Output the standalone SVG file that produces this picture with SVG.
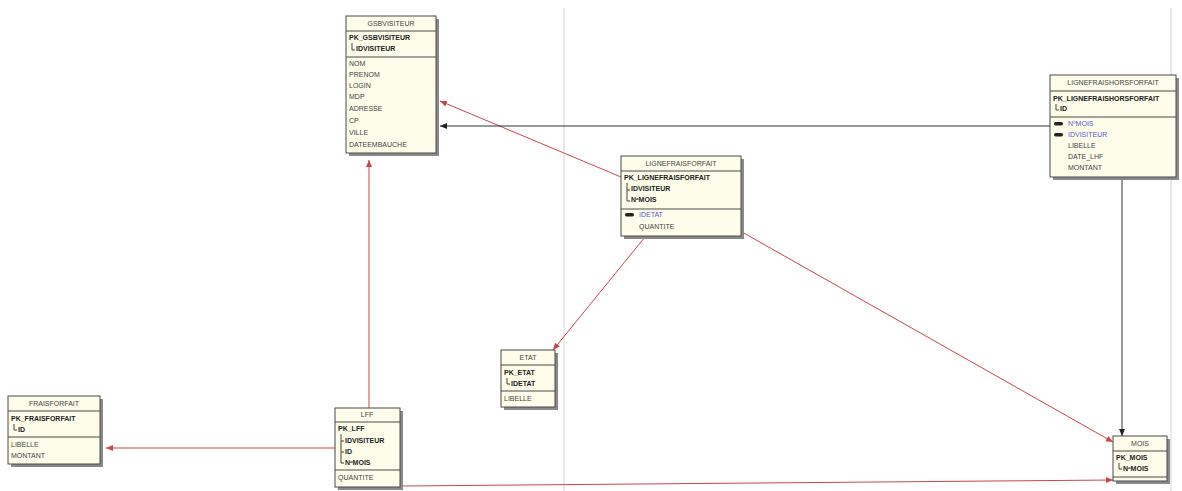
<svg xmlns="http://www.w3.org/2000/svg" width="1182" height="491" viewBox="0 0 1182 491">
<style>
.bx{fill:#fdfde9;stroke:#4a4a4a;stroke-width:1}
.sh{fill:#8a8a8a}
.dv{stroke:#4a4a4a;stroke-width:1}
.t{font-family:"Liberation Sans",Arial,sans-serif;font-size:7px;fill:#444}
.h{text-anchor:middle}
.b{font-weight:bold;fill:#222}
.bl{fill:#5a5ad0}
.tr{fill:none;stroke:#444;stroke-width:1}
.ic{fill:#222}
.r{stroke:#c84848;stroke-width:1;fill:none}
.k{stroke:#333;stroke-width:1;fill:none}
.pg{stroke:#e2e2e2;stroke-width:1.5}
</style>
<defs>
<marker id="ar" markerWidth="8" markerHeight="8" refX="7" refY="4" orient="auto" markerUnits="userSpaceOnUse">
<path d="M0,1 L7,4 L0,7 Z" fill="#c84848"/>
</marker>
<marker id="ak" markerWidth="8" markerHeight="8" refX="7" refY="4" orient="auto" markerUnits="userSpaceOnUse">
<path d="M0,1 L7,4 L0,7 Z" fill="#222"/>
</marker>
</defs>
<rect width="1182" height="491" fill="#ffffff"/>
<line class="pg" x1="564" y1="8" x2="564" y2="491"/>
<line class="pg" x1="1171" y1="8" x2="1171" y2="491"/>

<g id="connectors">
<line class="r" x1="621" y1="177" x2="440" y2="101" marker-end="url(#ar)"/>
<line class="k" x1="1050" y1="126" x2="440" y2="126" marker-end="url(#ak)"/>
<line class="r" x1="645" y1="237" x2="553" y2="350" marker-end="url(#ar)"/>
<line class="r" x1="742" y1="232" x2="1113" y2="442" marker-end="url(#ar)"/>
<line class="k" x1="1122" y1="178" x2="1122" y2="436" marker-end="url(#ak)"/>
<line class="r" x1="369" y1="408" x2="369" y2="160" marker-end="url(#ar)"/>
<line class="r" x1="335" y1="448" x2="106" y2="448" marker-end="url(#ar)"/>
<line class="r" x1="403" y1="486" x2="1113" y2="480" marker-end="url(#ar)"/>
</g>

<g id="gsbvisiteur">
<rect class="sh" x="349" y="19" width="90" height="137"/>
<rect class="bx" x="346" y="16" width="90" height="137"/>
<line class="dv" x1="346" y1="31" x2="436" y2="31"/>
<line class="dv" x1="346" y1="57" x2="436" y2="57"/>
<text class="t h" x="391" y="26">GSBVISITEUR</text>
<text class="t b" x="349" y="40">PK_GSBVISITEUR</text>
<path class="tr" d="M352,43 V50 H355"/>
<text class="t b" x="356" y="51">IDVISITEUR</text>
<text class="t" x="349" y="66">NOM</text>
<text class="t" x="349" y="77">PRENOM</text>
<text class="t" x="349" y="88">LOGIN</text>
<text class="t" x="349" y="99">MDP</text>
<text class="t" x="349" y="111">ADRESSE</text>
<text class="t" x="349" y="123">CP</text>
<text class="t" x="349" y="135">VILLE</text>
<text class="t" x="349" y="147">DATEEMBAUCHE</text>
</g>

<g id="lignefraishorsforfait">
<rect class="sh" x="1053" y="78" width="126" height="102"/>
<rect class="bx" x="1050" y="75" width="126" height="102"/>
<line class="dv" x1="1050" y1="91" x2="1176" y2="91"/>
<line class="dv" x1="1050" y1="117" x2="1176" y2="117"/>
<text class="t h" x="1113" y="85">LIGNEFRAISHORSFORFAIT</text>
<text class="t b" x="1053" y="101">PK_LIGNEFRAISHORSFORFAIT</text>
<path class="tr" d="M1056,104 V110 H1059"/>
<text class="t b" x="1060" y="111">ID</text>
<rect class="ic" x="1054" y="122" width="9" height="3.5" rx="1.7"/>
<text class="t bl" x="1068" y="126">NºMOIS</text>
<rect class="ic" x="1054" y="133" width="9" height="3.5" rx="1.7"/>
<text class="t bl" x="1068" y="137">IDVISITEUR</text>
<text class="t" x="1068" y="148">LIBELLE</text>
<text class="t" x="1068" y="159">DATE_LHF</text>
<text class="t" x="1068" y="170">MONTANT</text>
</g>

<g id="lignefraisforfait">
<rect class="sh" x="624" y="159" width="120" height="80"/>
<rect class="bx" x="621" y="156" width="120" height="80"/>
<line class="dv" x1="621" y1="171" x2="741" y2="171"/>
<line class="dv" x1="621" y1="209" x2="741" y2="209"/>
<text class="t h" x="681" y="166">LIGNEFRAISFORFAIT</text>
<text class="t b" x="624" y="180">PK_LIGNEFRAISFORFAIT</text>
<path class="tr" d="M627,183 V201 H630 M627,190 H630"/>
<text class="t b" x="631" y="191">IDVISITEUR</text>
<text class="t b" x="631" y="202">NºMOIS</text>
<rect class="ic" x="625" y="213" width="9" height="3.5" rx="1.7"/>
<text class="t bl" x="639" y="217">IDETAT</text>
<text class="t" x="639" y="229">QUANTITE</text>
</g>

<g id="etat">
<rect class="sh" x="504" y="353" width="54" height="57"/>
<rect class="bx" x="501" y="350" width="54" height="57"/>
<line class="dv" x1="501" y1="365" x2="555" y2="365"/>
<line class="dv" x1="501" y1="391" x2="555" y2="391"/>
<text class="t h" x="528" y="360">ETAT</text>
<text class="t b" x="504" y="375">PK_ETAT</text>
<path class="tr" d="M507,378 V384 H510"/>
<text class="t b" x="511" y="386">IDETAT</text>
<text class="t" x="504" y="401">LIBELLE</text>
</g>

<g id="fraisforfait">
<rect class="sh" x="11" y="399" width="92" height="68"/>
<rect class="bx" x="8" y="396" width="92" height="68"/>
<line class="dv" x1="8" y1="411" x2="100" y2="411"/>
<line class="dv" x1="8" y1="437" x2="100" y2="437"/>
<text class="t h" x="54" y="406">FRAISFORFAIT</text>
<text class="t b" x="11" y="421">PK_FRAISFORFAIT</text>
<path class="tr" d="M14,424 V430 H17"/>
<text class="t b" x="18" y="432">ID</text>
<text class="t" x="11" y="447">LIBELLE</text>
<text class="t" x="11" y="458">MONTANT</text>
</g>

<g id="lff">
<rect class="sh" x="338" y="411" width="65" height="79"/>
<rect class="bx" x="335" y="408" width="65" height="79"/>
<line class="dv" x1="335" y1="422" x2="400" y2="422"/>
<line class="dv" x1="335" y1="470" x2="400" y2="470"/>
<text class="t h" x="367" y="417">LFF</text>
<text class="t b" x="338" y="431">PK_LFF</text>
<path class="tr" d="M341,434 V463 H344 M341,441 H344 M341,452 H344"/>
<text class="t b" x="345" y="443">IDVISITEUR</text>
<text class="t b" x="345" y="454">ID</text>
<text class="t b" x="345" y="465">NºMOIS</text>
<text class="t" x="338" y="480">QUANTITE</text>
</g>

<g id="mois">
<rect class="sh" x="1116" y="439" width="54" height="45"/>
<rect class="bx" x="1113" y="436" width="54" height="45"/>
<line class="dv" x1="1113" y1="451" x2="1167" y2="451"/>
<line class="dv" x1="1113" y1="477" x2="1167" y2="477"/>
<text class="t h" x="1140" y="446">MOIS</text>
<text class="t b" x="1116" y="460">PK_MOIS</text>
<path class="tr" d="M1119,463 V469 H1122"/>
<text class="t b" x="1123" y="471">NºMOIS</text>
</g>
</svg>
